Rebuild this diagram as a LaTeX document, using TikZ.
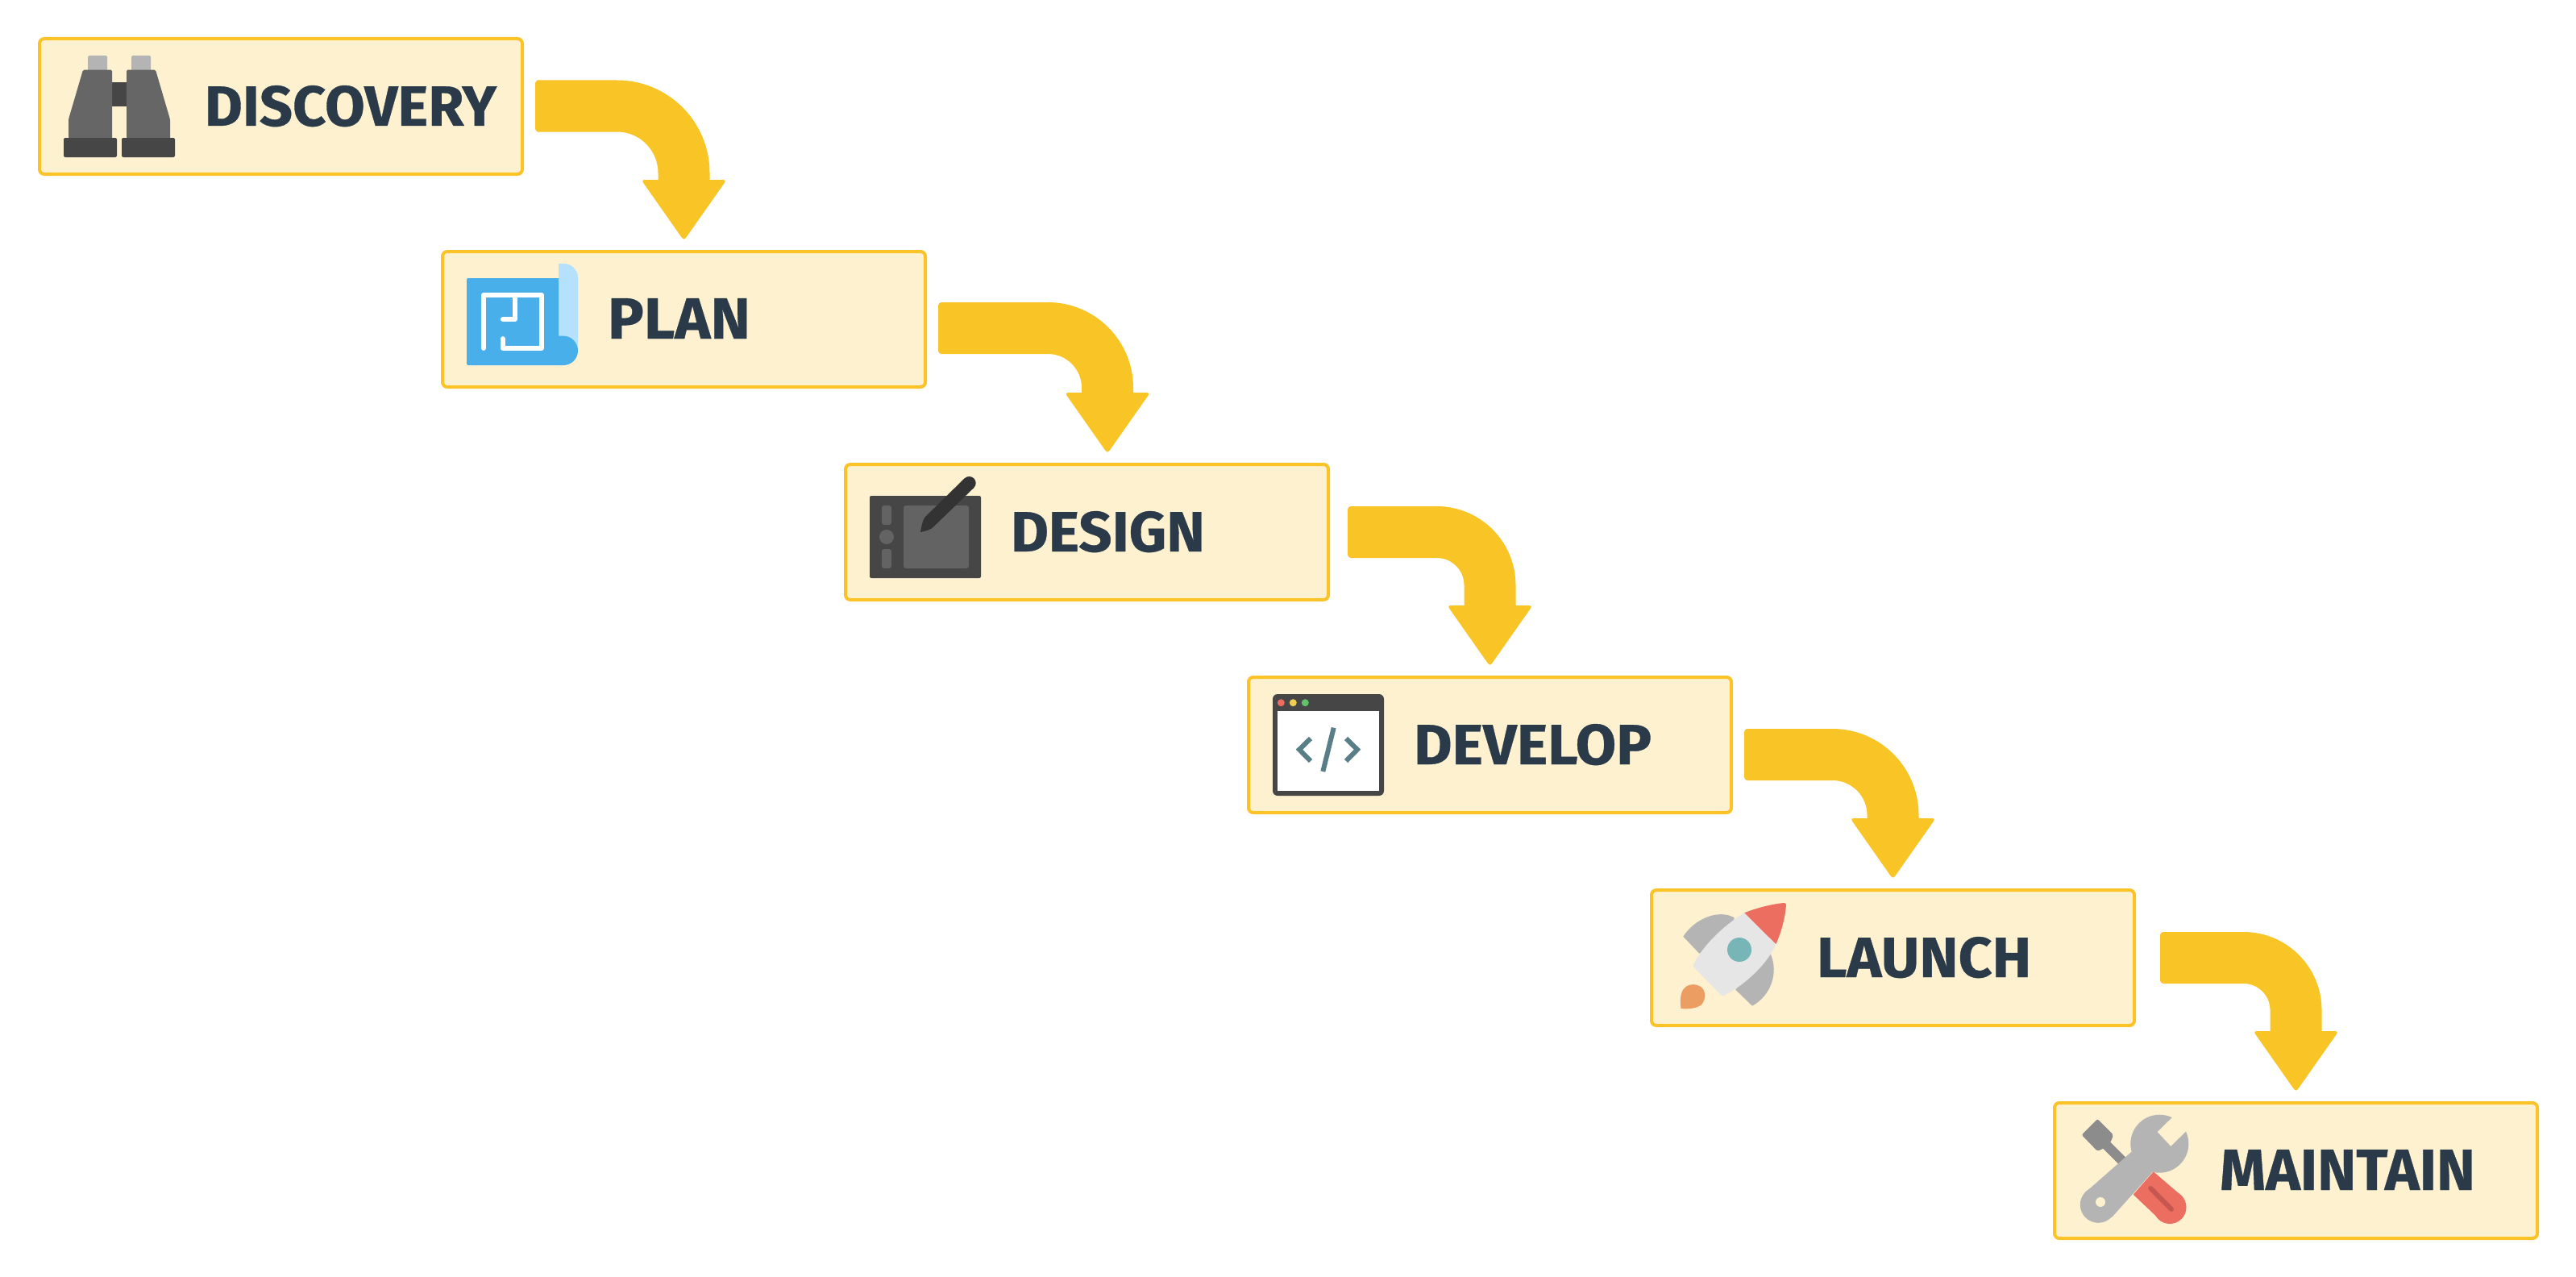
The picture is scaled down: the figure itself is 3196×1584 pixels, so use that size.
\documentclass[tikz,border=0pt]{standalone}
\usepackage{graphicx}
\usepackage{fontspec}
\setmainfont[BoldFeatures={FakeBold=0.5}]{Fira Sans}
\definecolor{bordery}{HTML}{FBC328}
\definecolor{boxfill}{HTML}{FDF1D0}
\definecolor{flowy}{HTML}{F8C426}
\definecolor{ink}{HTML}{2A3A48}
\definecolor{dk}{HTML}{464646}
\definecolor{md}{HTML}{666666}
\definecolor{lt}{HTML}{B4B4B4}
\definecolor{blueA}{HTML}{48AFEA}
\definecolor{blueB}{HTML}{B5E1FC}
\definecolor{redA}{HTML}{EB6E61}
\definecolor{codec}{HTML}{5A7E88}
\tikzset{
  stepbox/.style={draw=bordery,fill=boxfill,line width=4pt,rounded corners=6pt,
    minimum width=599pt,minimum height=168pt,inner sep=0pt,outer sep=0pt},
  steplabel/.style={anchor=base west,inner sep=0pt,outer sep=0pt,text=ink},
  flowline/.style={draw=flowy,line width=64pt},
  flowpart/.style={fill=flowy,rounded corners=4pt},
}
\newcommand{\lbl}[4]{\node[steplabel] (#1) at ([shift={(205,108)}]#2.north west)
  {\resizebox{#4pt}{50pt}{\fontsize{72}{80}\selectfont\bfseries #3}};}
\newcommand{\flowarrow}[6]{%
  \coordinate (#1s) at ([shift={(#6,#2)}]#1.east);
  \coordinate (#3t) at ([shift={(#4,-16)}]#3.north);
  \draw[flowline,rounded corners=#5pt] ([xshift=3pt]#1s) -| ([yshift=60pt]#3t);
  \fill[flowpart] ([shift={(0,-32)}]#1s) rectangle ([shift={(8,32)}]#1s);
  \fill[flowpart] ([shift={(-53,-73)}]#3t) -- ([shift={(53,-73)}]#3t) -- ([shift={(0,2.5)}]#3t) -- cycle;
}
\begin{document}
\begin{tikzpicture}[x=1pt,y=-1pt]
\useasboundingbox (0,0) rectangle (3196,1584);
\fill[white] (0,0) rectangle (3196,1584);
\node[stepbox] (discovery) at (348.5,132) {};
\node[stepbox] (plan) at (848.5,396) {};
\node[stepbox] (design) at (1348.5,660) {};
\node[stepbox] (develop) at (1848.5,924) {};
\node[stepbox] (launch) at (2348.5,1188) {};
\node[stepbox] (maintain) at (2848.5,1452) {};
\lbl{discoverylabel}{discovery}{DISCOVERY}{362}
\lbl{planlabel}{plan}{PLAN}{177}
\lbl{designlabel}{design}{DESIGN}{241}
\lbl{developlabel}{develop}{DEVELOP}{295}
\lbl{launchlabel}{launch}{LAUNCH}{266}
\lbl{maintainlabel}{maintain}{MAINTAIN}{317}
\flowarrow{discovery}{-0.5}{plan}{0}{83}{16}
\flowarrow{plan}{11}{design}{25.5}{74}{16}
\flowarrow{design}{0}{develop}{0}{66}{24}
\flowarrow{develop}{12}{launch}{0}{75}{16}
\flowarrow{launch}{0}{maintain}{0}{65}{32}
% binoculars
\begin{scope}[shift={([shift={(-2,-2)}]discovery.north west)}]
\fill[lt,rounded corners=1.5pt] (62,23) rectangle (86,45);
\fill[lt,rounded corners=1.5pt] (116,23) rectangle (140,45);
\fill[dk] (92,55.7) rectangle (110,86);
\fill[md,rounded corners=1.5pt] (56,40.7) -- (92,40.7) -- (92,126) -- (38,126) -- (38,102) -- cycle;
\fill[md,rounded corners=1.5pt] (110,40.7) -- (146,40.7) -- (164,102) -- (164,126) -- (110,126) -- cycle;
\fill[dk,rounded corners=2pt] (32,125) rectangle (98,149);
\fill[dk,rounded corners=2pt] (104,125) rectangle (170,149);
\end{scope}
% blueprint
\begin{scope}[shift={([shift={(-2,-2)}]plan.north west)}]
\fill[blueB] (146,17) -- (153,17) .. controls (162,17) and (170,25) .. (170,34) -- (170,125) -- (146,125) -- cycle;
\fill[blueA] (32,37) .. controls (32,36) and (33,35) .. (34,35) -- (146,35) -- (146,106.7) -- (152,106.7) .. controls (162,106.7) and (170,115) .. (170,125) .. controls (170,135) and (162,143) .. (152,143) -- (34,143) .. controls (33,143) and (32,142) .. (32,141) -- cycle;
\draw[white,line width=5.7pt,line cap=round,line join=round] (53,122) -- (53,55.7) -- (125,55.7) -- (125,122) -- (76.7,122) -- (76.7,110);
\draw[white,line width=5.7pt,line cap=round,line join=round] (92,55.7) -- (92,86) -- (76.7,86);
\end{scope}
% tablet
\begin{scope}[shift={([shift={(-2,-2)}]design.north west)}]
\fill[dk,rounded corners=2pt] (32,41) rectangle (170,143);
\definecolor{scr}{HTML}{636363}
\fill[scr,rounded corners=3pt] (74,53) rectangle (155,131);
\fill[scr,rounded corners=3pt] (47,53) rectangle (59,77);
\fill[scr,rounded corners=3pt] (47,107) rectangle (59,131);
\fill[scr] (53,92) circle[radius=9pt];
\definecolor{pen}{HTML}{333333}
\fill[pen] (149.7,19.3) -- (100.3,67.7) .. controls (98,71) and (96,79) .. (95,86) .. controls (101,85) and (108,83) .. (111.3,79.3) -- (161.3,31) -- cycle;
\fill[pen] (155.5,25.2) circle[radius=8.2pt];
\end{scope}
% browser
\begin{scope}[shift={([shift={(-2,-2)}]develop.north west)}]
\fill[dk,rounded corners=6pt] (32,23) rectangle (170,149);
\fill[white] (38,44) rectangle (164,143);
\definecolor{da}{HTML}{EA6D5F}\definecolor{db}{HTML}{F0CF50}\definecolor{dc}{HTML}{62C26A}
\fill[da] (42.3,33.7) circle[radius=4.5pt];
\fill[db] (57.3,33.7) circle[radius=4.5pt];
\fill[dc] (72.3,33.7) circle[radius=4.5pt];
\draw[codec,line width=6pt,line join=miter] (79,78) -- (65,91.7) -- (79,106);
\draw[codec,line width=6pt,line join=miter] (123,78) -- (137,91.7) -- (123,106);
\draw[codec,line width=6pt] (107.7,64.7) -- (94.3,119);
\end{scope}
% rocket
\begin{scope}[shift={([shift={(-2,-2)}]launch.north west)}]
\fill[lt] (41.3,59.7) .. controls (55,38) and (85,25) .. (104.7,36.3) -- (100,60) -- (61.3,80.7) -- cycle;
\fill[lt] (127,145.7) .. controls (150,133) and (160,105) .. (149.7,81.3) -- (125,100) -- (106.3,125.7) -- cycle;
\definecolor{hull}{HTML}{E6E6E6}
\fill[hull,rounded corners=1.5pt] (117.3,30.3) .. controls (90,47) and (65,72) .. (53,96.3) -- (89.7,133.7) .. controls (115,122) and (145,95) .. (156.3,69) -- cycle;
\fill[redA] (117.3,30.3) .. controls (135,23) and (155,19) .. (166,18) .. controls (168,18) and (169,19) .. (169,20) .. controls (168,35) and (163,55) .. (156.3,69) -- cycle;
\definecolor{win}{HTML}{78B5B7}
\fill[win] (111,76) circle[radius=15pt];
\definecolor{flame}{HTML}{EC9D62}
\fill[flame] (38.5,149) .. controls (37,138) and (38,128) .. (43,123.5) .. controls (49,117) and (61,118) .. (66,125) .. controls (70,131) and (68,141) .. (63,145) .. controls (57,149) and (46,150) .. (38.5,149) -- cycle;
\end{scope}
% tools
\begin{scope}[shift={([shift={(-2,-2)}]maintain.north west)}]
\definecolor{drv}{HTML}{8C8C8C}
\draw[drv,line width=12pt] (66,54) -- (90,78);
\fill[drv,rounded corners=2pt] (55.3,22) -- (35.7,41.7) -- (55.3,62) -- (63.7,58) -- (71.7,50.7) -- (75,41.7) -- cycle;
\fill[redA] (124.7,87.3) -- (159.7,117.3) -- (131.3,145.7) -- (99.7,115.7) -- cycle;
\fill[redA] (145,131.5) circle[radius=20.5pt];
\definecolor{slot}{HTML}{C65750}
\draw[slot,line width=6pt,line cap=round] (121.3,108) -- (147,134);
\fill[lt] (132.3,52.7) circle[radius=36pt];
\fill[lt] (98,62.3) -- (43,110.7) -- (73,144) -- (123,88.3) -- (132,60) -- cycle;
\fill[lt] (56.3,128.3) circle[radius=22.5pt];
\fill[boxfill] (59,125) circle[radius=6pt];
\fill[boxfill] (145.7,22.3) -- (129.7,38) -- (146.3,55.7) -- (162.3,40) -- (178.3,24) -- (161.7,6.3) -- cycle;
\end{scope}
\end{tikzpicture}
\end{document}
